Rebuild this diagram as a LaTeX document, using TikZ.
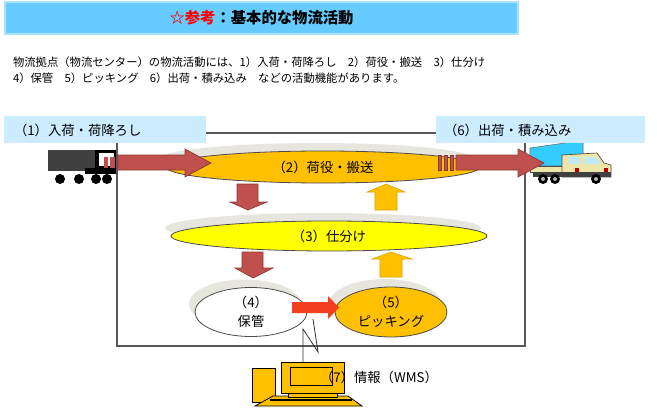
\documentclass[tikz,border=0pt]{standalone}
\usepackage{fontspec}
\setmainfont{Noto Sans CJK JP}
\usetikzlibrary{shapes.geometric,shadows}
\definecolor{titleblue}{HTML}{66CCFF}
\definecolor{titlered}{HTML}{FF0000}
\definecolor{labelblue}{HTML}{CCECFF}
\definecolor{arrowred}{HTML}{C0504D}
\definecolor{arrowredline}{HTML}{8C3836}
\definecolor{orangefill}{HTML}{FFC000}
\definecolor{yellowfill}{HTML}{FFFF00}
\definecolor{shadowgray}{HTML}{E6E6DE}
\definecolor{brightred}{HTML}{F2401E}
\definecolor{framegray}{HTML}{595959}
\definecolor{truckblue}{HTML}{33CCFF}
\definecolor{truckgray}{HTML}{404040}
\definecolor{cream}{HTML}{EEE6A8}
\begin{document}
\begin{tikzpicture}[x=0.75pt,y=-0.75pt,
  every node/.style={inner sep=0pt, outer sep=0pt},
  lbl/.style={font=\fontsize{10}{12}\selectfont, text=black},
  lbltwo/.style={font=\fontsize{10}{14.25}\selectfont, text=black, align=center},
  desc/.style={font=\fontsize{8.5}{12}\selectfont, anchor=west},
  labbox/.style={fill=labelblue, draw=none, minimum width=#1, minimum height=20.25pt, anchor=north west},
  ell/.style={ellipse, draw=black!70, line width=0.6pt,
    drop shadow={shadow xshift=-4.5pt, shadow yshift=6pt, fill=shadowgray, opacity=1}},
  redarrow/.style={fill=arrowred, draw=arrowredline, line width=0.5pt},
  orangearrow/.style={fill=orangefill, draw=orangefill!85!black, line width=0.4pt},
  frameline/.style={draw=framegray, line width=1.1pt},
  pcpart/.style={fill=orangefill, draw=black, line width=0.6pt},
]
\useasboundingbox (0,0) rectangle (657,410);
\fill[white] (0,0) rectangle (657,410);

% title band
\node[fill=titleblue, draw=titleblue!55!white, line width=0.8pt,
      minimum width=384.75pt, minimum height=24pt,
      font=\fontsize{11.5}{14}\selectfont\bfseries] (title) at (261.5,18)
      {\textcolor{titlered}{☆参考}：基本的な物流活動};

% description
\node[desc] (d1) at (13,62) {物流拠点（物流センター）の物流活動には、1）入荷・荷降ろし　2）荷役・搬送　3）仕分け};
\node[desc] (d2) at (13,78) {4）保管　5）ピッキング　6）出荷・積み込み　などの活動機能があります。};

% left truck
\fill[truckgray] (48,150) rectangle (95,171);
\fill[black] (95,150) rectangle (117,172);
\fill[white] (99,153) rectangle (114,166);
\fill[arrowred] (104,157) rectangle (108,170);
\fill[arrowred] (110,157) rectangle (115,170);
\fill[black] (85,168) rectangle (117,174);
\foreach \x in {60,79,96,107} \fill[black] (\x,179) circle[radius=5];
\coordinate (truckL) at (117,163);

% right truck
\draw[fill=truckblue, draw=black!60, line width=0.4pt] (530,148) -- (572,142) -- (583,142) -- (583,166) -- (530,166) -- cycle;
\draw[fill=cream, draw=black!70, line width=0.5pt] (530,166) rectangle (562,172);
\draw[fill=cream, draw=black!70, line width=0.5pt] (562,155) -- (597,153) -- (604,163) -- (611,165) -- (611,177) -- (562,177) -- cycle;
\fill[cyan!25] (569,157) rectangle (581,164);
\fill[cyan!25] (585,157) -- (596,157) -- (601,164) -- (585,164) -- cycle;
\fill[black!75] (533,172) rectangle (611,177);
\fill[red!70!black] (575,168) rectangle (579,172);
\fill[red!70!black] (604,168) rectangle (608,172);
\foreach \x in {543,555,596} {\fill[black] (\x,179) circle[radius=5]; \fill[gray!60] (\x,179) circle[radius=2];}
\coordinate (truckR) at (528,163);

% frame
\draw[frameline] (117,133) rectangle (525,346);

% label boxes
\node[labbox=151.5pt] (lab1) at (4,116) {};
\node[lbl, anchor=west] (lab1t) at (14,130) {（1）入荷・荷降ろし};
\node[labbox=156.75pt] (lab6) at (436,116) {};
\node[lbl, anchor=west] (lab6t) at (444,130) {（6）出荷・積み込み};

% ellipses
\node[ell, fill=orangefill, minimum width=235.5pt, minimum height=24pt, lbl] (e2) at (323,167) {（2）荷役・搬送};
\node[ell, fill=yellowfill, minimum width=237pt, minimum height=22.5pt, lbl] (e3) at (329,236) {（3）仕分け};
\node[ell, fill=white, minimum width=84pt, minimum height=36.75pt, lbltwo] (e4) at (251,312) {（4）\\保管};
\node[ell, fill=orangefill, minimum width=84pt, minimum height=37.5pt, lbltwo] (e5) at (391,312) {（5）\\ピッキング};

% truck -> handling
\draw[redarrow] (118,155) -- (185,155) -- (185,149) -- (211,163) -- (185,177) -- (185,170) -- (118,170) -- cycle;
% handling -> truck (striped)
\foreach \x in {438,444,450} \draw[redarrow] (\x,155) rectangle ++(3.5,15);
\draw[redarrow] (456,155) -- (518,155) -- (518,149) -- (544,163) -- (518,177) -- (518,170) -- (456,170) -- cycle;

% down arrows
\draw[redarrow] (237,184) -- (258,184) -- (258,202) -- (267,202) -- (248,210) -- (230,202) -- (237,202) -- cycle;
\draw[redarrow] (242,252) -- (263,252) -- (263,268) -- (273,268) -- (253,278) -- (235,268) -- (242,268) -- cycle;
% up arrows
\draw[orangearrow] (375,210) -- (375,192) -- (367,192) -- (386,184) -- (405,192) -- (397,192) -- (397,210) -- cycle;
\draw[orangearrow] (380,277) -- (380,259) -- (372,259) -- (391,252) -- (412,259) -- (402,259) -- (402,277) -- cycle;

% storage -> picking
\fill[brightred] (292,302) -- (328,302) -- (328,296) -- (339,307.5) -- (328,319) -- (328,313) -- (292,313) -- cycle;

% computer
\draw[pcpart] (252,368) rectangle (275,402);
\draw[pcpart] (273,396) -- (348,396) -- (362,406) -- (255,406) -- cycle;
\draw[black, line width=1.5pt] (270,399.5) -- (352,399.5);
\draw[pcpart] (288,390) rectangle (337,397);
\node[pcpart, minimum width=47.25pt, minimum height=23.25pt, anchor=north west] (pc) at (281,362) {};
\draw[pcpart] (290,367) rectangle (332,385);
\node[lbl, anchor=west] (wms) at (320,377) {（7）情報（WMS）};

% lightning link
\draw[black!80, line width=0.6pt] (313,319) -- (318,352) -- (303,329) -- (pc.north -| 303,0);
\end{tikzpicture}
\end{document}
